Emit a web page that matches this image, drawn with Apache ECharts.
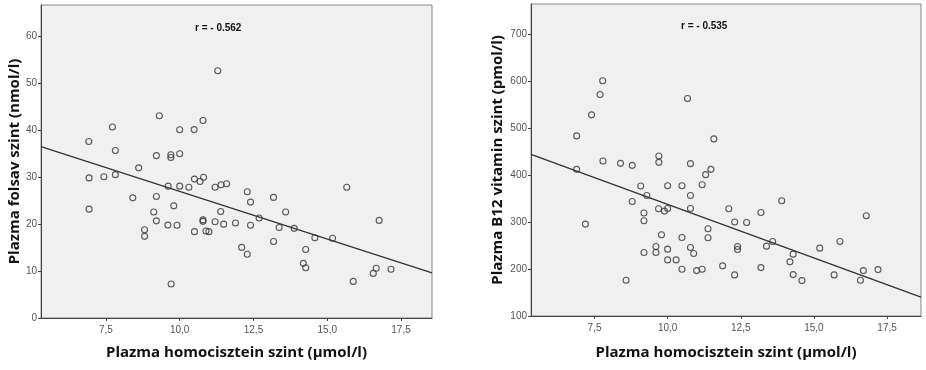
<!DOCTYPE html>
<html>
<head>
<meta charset="utf-8">
<script src="https://cdn.jsdelivr.net/npm/echarts@6/dist/echarts.min.js"></script>
<style>
html,body{margin:0;padding:0;background:#fff;}
#chart{width:926px;height:370px;}
</style>
</head>
<body>
<div id="chart"></div>
<script>
// Left panel: homocysteine (x) vs folate (y)
var folsavX = [11.29,9.31,7.72,10.79,10.0,10.49,6.92,7.82,9.21,9.70,9.70,10.0,8.61,6.93,7.43,7.82,9.61,10.0,10.31,10.5,10.69,10.81,11.2,11.4,11.59,8.41,9.21,6.93,9.80,9.12,11.39,9.21,9.60,9.91,10.79,10.79,11.2,11.49,11.89,8.81,8.81,10.5,10.89,10.99,9.71,12.29,12.40,13.18,13.59,12.69,12.40,13.37,13.88,14.58,15.18,15.66,16.76,13.18,14.27,12.10,12.29,14.19,14.27,16.66,16.56,17.16,15.88];
var folsavY = [52.7,43.1,40.7,42.1,40.1,40.15,37.6,35.7,34.6,34.8,34.2,35.0,32.0,29.85,30.1,30.55,28.1,28.1,27.85,29.6,29.1,30.0,27.85,28.4,28.6,25.6,25.9,23.2,23.9,22.6,22.7,20.7,19.8,19.75,20.9,20.6,20.5,20.0,20.25,18.8,17.4,18.4,18.55,18.4,7.25,26.9,24.7,25.7,22.6,21.3,19.75,19.3,19.1,17.1,17.0,27.85,20.8,16.3,14.6,15.05,13.6,11.65,10.7,10.6,9.5,10.4,7.8];
var folsavFitX = [5.3, 18.55];
var folsavFitY = [36.5, 9.6];

// Right panel: homocysteine (x) vs B12 (y)
var b12X = [7.78,7.69,7.40,6.89,10.68,9.70,9.70,7.79,8.39,8.79,10.78,6.89,11.30,11.58,11.48,9.08,10.0,10.49,11.18,9.29,10.78,8.79,9.19,9.69,9.89,10.0,10.78,9.19,7.19,9.79,10.49,11.38,11.38,9.60,9.60,9.19,10.0,10.78,10.89,10.0,10.29,10.49,10.99,11.18,8.58,12.09,13.19,13.90,16.79,12.29,12.70,13.59,13.38,12.39,12.39,14.29,14.18,15.2,15.89,11.88,12.29,13.19,14.29,14.59,15.69,16.69,17.19,16.59];
var b12Y = [600.6,571.4,528.1,483.3,562.9,440.6,427.0,430.0,424.9,420.6,424.2,412.1,400.8,476.9,412.1,376.7,377.3,377.3,379.4,356.6,356.6,343.8,319.1,328.2,323.3,328.9,328.9,302.6,295.6,272.8,267.0,285.6,266.4,247.8,235.0,235.0,242.3,245.7,232.9,219.4,219.4,199.6,196.6,199.6,176.1,328.2,320.3,345.3,313.3,299.9,299.0,258.5,248.7,247.8,241.4,231.6,215.2,244.4,258.5,206.7,187.5,203.0,188.1,175.3,187.5,196.6,198.8,176.1];
var b12FitX = [5.33, 18.66];
var b12FitY = [444, 140];

var xTicks = [7.5, 10.0, 12.5, 15.0, 17.5];
var folsavTicks = [0, 10, 20, 30, 40, 50, 60];
var b12Ticks = [100, 200, 300, 400, 500, 600, 700];

var xTitle = 'Plazma homocisztein szint (µmol/l)';
var folsavTitle = 'Plazma folsav szint (nmol/l)';
var b12Title = 'Plazma B12 vitamin szint (pmol/l)';
var rFolsav = 'r = - 0.562';
var rB12 = 'r = - 0.535';

function zip(a, b) { return a.map(function (v, i) { return [v, b[i]]; }); }

var titleFont = {fontFamily: 'Open Sans', fontWeight: 'bold', fontSize: 15, color: '#111'};
var tickLabel = {color: '#555', fontSize: 10, fontFamily: 'Liberation Sans'};

function xAxisCfg(gi, min, max, gap) {
  return {
    type: 'value', gridIndex: gi, min: min, max: max,
    name: xTitle, nameLocation: 'middle', nameGap: gap, nameTextStyle: titleFont,
    axisLine: {show: true, lineStyle: {color: '#444', width: 1}},
    axisTick: {show: true, length: 3, lineStyle: {color: '#444'}, customValues: xTicks},
    axisLabel: Object.assign({customValues: xTicks, margin: 7,
      formatter: function (v) { return v.toFixed(1).replace('.', ','); }}, tickLabel),
    splitLine: {show: false}
  };
}
function yAxisCfg(gi, min, max, ticks, title, gap) {
  return {
    type: 'value', gridIndex: gi, min: min, max: max,
    name: title, nameLocation: 'middle', nameGap: gap, nameRotate: 90, nameTextStyle: titleFont,
    axisLine: {show: true, lineStyle: {color: '#444', width: 1}},
    axisTick: {show: true, length: 3, lineStyle: {color: '#444'}, customValues: ticks},
    axisLabel: Object.assign({customValues: ticks, margin: 4}, tickLabel),
    splitLine: {show: false}
  };
}

var pointStyle = {color: 'rgba(0,0,0,0)', borderColor: '#333', borderWidth: 1.1};

var chart = echarts.init(document.getElementById('chart'), null, {renderer: 'canvas'});
chart.setOption({
  backgroundColor: '#ffffff',
  animation: false,
  grid: [
    {left: 41, top: 5, width: 391, height: 313, show: true, backgroundColor: '#f0f0f0', borderColor: '#888', borderWidth: 1, containLabel: false},
    {left: 531, top: 4, width: 390, height: 312, show: true, backgroundColor: '#f0f0f0', borderColor: '#888', borderWidth: 1, containLabel: false}
  ],
  xAxis: [xAxisCfg(0, 5.3, 18.55, 27), xAxisCfg(1, 5.33, 18.66, 29)],
  yAxis: [yAxisCfg(0, 0, 66.7, folsavTicks, folsavTitle, 17), yAxisCfg(1, 100, 764, b12Ticks, b12Title, 26)],
  series: [
    {type: 'scatter', xAxisIndex: 0, yAxisIndex: 0, data: zip(folsavX, folsavY), symbol: 'circle', symbolSize: 6, itemStyle: pointStyle, silent: true},
    {type: 'line', xAxisIndex: 0, yAxisIndex: 0, data: zip(folsavFitX, folsavFitY), showSymbol: false, lineStyle: {color: '#333', width: 1.3}, silent: true},
    {type: 'scatter', xAxisIndex: 1, yAxisIndex: 1, data: zip(b12X, b12Y), symbol: 'circle', symbolSize: 6, itemStyle: pointStyle, silent: true},
    {type: 'line', xAxisIndex: 1, yAxisIndex: 1, data: zip(b12FitX, b12FitY), showSymbol: false, lineStyle: {color: '#333', width: 1.3}, silent: true}
  ],
  graphic: [
    {type: 'text', left: 195, top: 23, style: {text: rFolsav, font: 'bold 10px "Liberation Sans"', fill: '#111'}},
    {type: 'text', left: 681, top: 21, style: {text: rB12, font: 'bold 10px "Liberation Sans"', fill: '#111'}}
  ]
});
</script>
</body>
</html>
